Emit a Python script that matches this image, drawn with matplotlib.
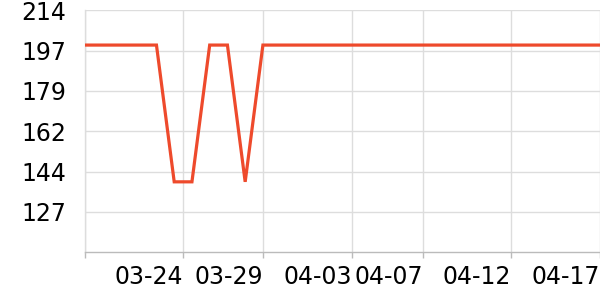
import matplotlib
matplotlib.use("Agg")
import matplotlib.pyplot as plt

# Data
days = list(range(30))  # day 0 = 03-19
values = [199, 199, 199, 199, 199, 140, 140, 199, 199, 140] + [199] * 20
tick_pos = [5.5, 10, 15, 19, 24, 29]
tick_labels = ["03-24", "03-29", "04-03", "04-07", "04-12", "04-17"]
y_ticks = [127.0, 144.4, 161.8, 179.2, 196.6, 214.0]
y_labels = ["127", "144", "162", "179", "197", "214"]

fig = plt.figure(figsize=(6, 3), dpi=100)
ax = fig.add_axes([85.5 / 600, (300 - 252.3) / 300, 1 - 85.5 / 600, (252.3 - 10.3) / 300])

ax.plot(days, values, color="#ee4a2c", linewidth=2.3, solid_joinstyle="miter", clip_on=True, zorder=3)

ax.set_xlim(0, 29)
ax.set_ylim(109.6, 214.0)

ax.set_xticks([0] + tick_pos)
ax.set_xticklabels([""] + tick_labels, ha="right")
ax.set_yticks(y_ticks)
ax.set_yticklabels(y_labels)

for s in ["top", "right"]:
    ax.spines[s].set_visible(False)
ax.spines["left"].set_color("#dddddd")
ax.spines["left"].set_linewidth(1)
ax.spines["bottom"].set_color("#bbbbbb")
ax.spines["bottom"].set_linewidth(1)

ax.grid(True, color="#dddddd", linewidth=1)
ax.set_axisbelow(True)

ax.tick_params(axis="x", length=4, width=1, color="#bbbbbb", labelsize=17, pad=5, labelcolor="black")
ax.tick_params(axis="y", length=0, labelsize=17, pad=14, labelcolor="black")

fig.savefig("out.png", dpi=100)
